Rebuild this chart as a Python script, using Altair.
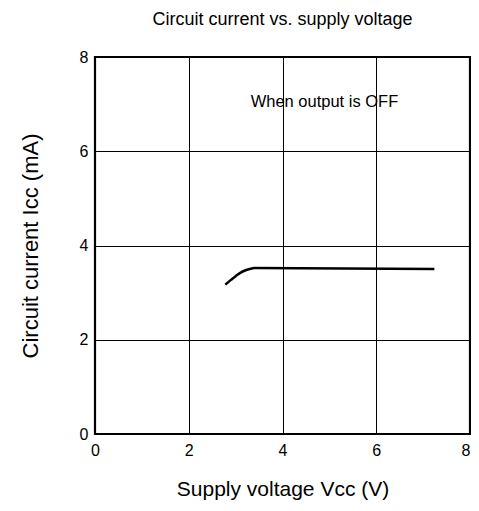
import altair as alt
import pandas as pd

voltage = [2.78, 2.9, 3.0, 3.1, 3.2, 3.3, 3.4, 7.24]
current = [3.17, 3.27, 3.35, 3.42, 3.47, 3.5, 3.52, 3.5]

note_x = [3.32]
note_y = [7.04]
note_text = ["When output is OFF"]

x_domain = [0, 8]
y_domain = [0, 8]
tick_values = [0, 2, 4, 6, 8]

df = pd.DataFrame({"v": voltage, "i": current})
notes = pd.DataFrame({"x": note_x, "y": note_y, "t": note_text})
frame = pd.DataFrame({"x0": [x_domain[0]], "x1": [x_domain[1]],
                      "y0": [y_domain[0]], "y1": [y_domain[1]]})

font = "Liberation Sans"
xs = alt.Scale(domain=x_domain, nice=False)
ys = alt.Scale(domain=y_domain, nice=False)

xaxis = alt.Axis(values=tick_values, title="Supply voltage Vcc (V)", grid=True,
                 gridColor="black", gridWidth=1, ticks=False, domain=False,
                 labelAlign={"expr": "datum.value == 8 ? 'right' : 'center'"},
                 labelPadding=8, labelFontSize=16, titleFontSize=21, titlePadding=20,
                 labelFont=font, titleFont=font, titleFontWeight="normal",
                 labelColor="black", titleColor="black")
yaxis = alt.Axis(values=tick_values, title="Circuit current Icc (mA)", grid=True,
                 gridColor="black", gridWidth=1, ticks=False, domain=False,
                 labelPadding=7, labelFontSize=16, titleFontSize=22, titlePadding=37,
                 labelFont=font, titleFont=font, titleFontWeight="normal",
                 labelColor="black", titleColor="black")

line = alt.Chart(df).mark_line(color="black", strokeWidth=2.5, interpolate="monotone").encode(
    x=alt.X("v:Q", scale=xs, axis=xaxis),
    y=alt.Y("i:Q", scale=ys, axis=yaxis),
)

box = alt.Chart(frame).mark_rect(fill=None, stroke="black", strokeWidth=2.2).encode(
    x=alt.X("x0:Q", scale=xs), x2="x1:Q",
    y=alt.Y("y0:Q", scale=ys), y2="y1:Q",
)

text = alt.Chart(notes).mark_text(align="left", baseline="middle", fontSize=16.5,
                                  font=font, color="black").encode(
    x=alt.X("x:Q", scale=xs),
    y=alt.Y("y:Q", scale=ys),
    text="t:N",
)

chart = (line + box + text).properties(
    width=375, height=377,
    autosize=alt.AutoSizeParams(type="none"),
    padding={"left": 87, "top": 49, "right": 1, "bottom": 66},
    title=alt.TitleParams("Circuit current vs. supply voltage", fontSize=18, font=font,
                          fontWeight="normal", color="black", offset=20, anchor="middle"),
).configure_view(stroke=None).configure(background="white")

chart.save("out.html", embed_options={"renderer": "svg", "actions": False})
